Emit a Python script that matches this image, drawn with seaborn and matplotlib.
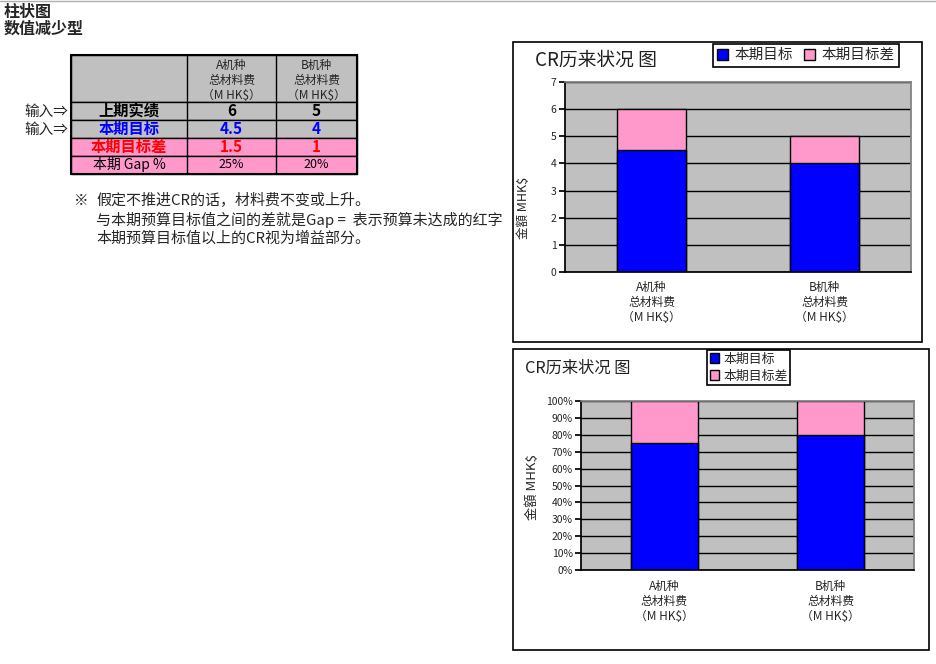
import pandas as pd
import matplotlib
matplotlib.use("Agg")
import matplotlib.pyplot as plt
import seaborn as sns
from matplotlib.patches import Rectangle
from matplotlib.ticker import PercentFormatter

sns.set_theme(style="white")
plt.rcParams['font.family'] = ['Noto Sans CJK SC', 'DejaVu Sans']

W, H = 936, 664

# data
categories = ["A机种\n总材料费\n（M HK$）", "B机种\n总材料费\n（M HK$）"]
prev_actual = [6, 5]
target = [4.5, 4]
gap = [1.5, 1]
gap_pct = ["25%", "20%"]
row_labels = ["上期实绩", "本期目标", "本期目标差", "本期 Gap %"]
series_names = ["本期目标", "本期目标差"]
chart_title = "CR历来状况 图"
y_label = "金額 MHK$"
notes = ["假定不推进CR的话，材料费不变或上升。",
         "与本期预算目标值之间的差就是Gap =  表示预算未达成的红字",
         "本期预算目标值以上的CR视为增益部分。"]

BLUE = "#0000FF"
PINK = "#FF99CC"
GREY = "#C0C0C0"

df = pd.DataFrame({"cat": categories, "target": target, "gap": gap})
df["total"] = df["target"] + df["gap"]
df["target_pct"] = df["target"] / df["total"] * 100
df["total_pct"] = 100.0


def px_box(x0, y0, x1, y1):
    return [x0 / W, 1 - y1 / H, (x1 - x0) / W, (y1 - y0) / H]


fig = plt.figure(figsize=(W / 100, H / 100), dpi=100)
fig.patch.set_facecolor("white")

# background layer in pixel coords
bg = fig.add_axes([0, 0, 1, 1])
bg.set_xlim(0, W)
bg.set_ylim(H, 0)
bg.axis("off")
bg.plot([0, W], [1, 1], color="#b0b0b0", lw=1)

bg.text(4, 12, "柱状图", fontsize=11.5, fontweight="bold", va="center")
bg.text(4, 29, "数值减少型", fontsize=11.5, fontweight="bold", va="center")

# table
col_x = [71, 187, 276, 357]
row_y = [55, 102, 120, 138, 156, 174]
row_fill = [GREY, GREY, GREY, PINK, PINK]
for r in range(5):
    bg.add_patch(Rectangle((col_x[0], row_y[r]), col_x[-1] - col_x[0],
                           row_y[r + 1] - row_y[r], facecolor=row_fill[r],
                           edgecolor="black", lw=1))
for x in col_x[1:-1]:
    bg.plot([x, x], [row_y[0], row_y[-1]], color="black", lw=1)
bg.add_patch(Rectangle((col_x[0], row_y[0]), col_x[-1] - col_x[0],
                       row_y[-1] - row_y[0], fill=False, edgecolor="black", lw=1.5))

for i, c in enumerate(categories):
    bg.text((col_x[i + 1] + col_x[i + 2]) / 2, (row_y[0] + row_y[1]) / 2 + 2, c,
            fontsize=8.5, ha="center", va="center", linespacing=1.2)

row_style = [("black", "bold", 11), (BLUE, "bold", 11), ("red", "bold", 11),
             ("black", "normal", 10)]
row_vals = [[str(v) for v in prev_actual], [str(v) for v in target],
            [str(v) for v in gap], gap_pct]
for r, lab in enumerate(row_labels):
    cy = (row_y[r + 1] + row_y[r + 2]) / 2
    color, weight, fs = row_style[r]
    bg.text((col_x[0] + col_x[1]) / 2, cy, lab, color=color, fontweight=weight,
            fontsize=fs, ha="center", va="center")
    for i, v in enumerate(row_vals[r]):
        bg.text((col_x[i + 1] + col_x[i + 2]) / 2, cy, v, color=color,
                fontweight=weight, fontsize=fs if r < 3 else 9,
                ha="center", va="center")

for yy in [112, 130]:
    bg.text(24, yy, "输入⇒", fontsize=10.5, va="center")

bg.text(74, 201, "※", fontsize=10.5, va="center")
for k, line in enumerate(notes):
    bg.text(96, 201 + k * 18.5, line, fontsize=10.8, va="center")

# chart frames
bg.add_patch(Rectangle((513, 42), 922 - 513, 342 - 42, fill=False,
                       edgecolor="black", lw=1.2))
bg.add_patch(Rectangle((513, 349), 929 - 513, 650 - 349, fill=False,
                       edgecolor="black", lw=1.2))
bg.text(535, 60, chart_title, fontsize=13.5, color="#202020", va="center")
bg.text(525, 368, chart_title, fontsize=11.7, color="#202020", va="center")


def style_ax(ax, ymax, step):
    ax.set_facecolor(GREY)
    ax.set_xlim(-0.5, 1.5)
    ax.set_ylim(0, ymax)
    ax.set_yticks([step * i for i in range(int(round(ymax / step)) + 1)])
    ax.grid(axis="y", color="black", lw=1)
    ax.grid(axis="x", visible=False)
    ax.set_axisbelow(True)
    for s in ["top", "right"]:
        ax.spines[s].set_color("#808080")
    for s in ["left", "bottom"]:
        ax.spines[s].set_color("black")
    ax.set_xlabel("")
    ax.set_xticks([0.5], minor=True)
    ax.tick_params(axis="x", which="major", length=0, labelsize=8.5)
    ax.tick_params(axis="x", which="minor", length=3, direction="in",
                   color="black", width=1)
    ax.tick_params(axis="y", length=4, direction="out", color="black",
                   labelsize=7.5, left=True, pad=2)
    for t in ax.get_xticklabels():
        t.set_linespacing(1.2)


# chart 1: stacked values
ax1 = fig.add_axes(px_box(565, 82, 911, 272))
sns.barplot(data=df, x="cat", y="total", color=PINK, saturation=1, width=0.4,
            edgecolor="black", linewidth=1, label=series_names[1], ax=ax1)
sns.barplot(data=df, x="cat", y="target", color=BLUE, saturation=1, width=0.4,
            edgecolor="black", linewidth=1, label=series_names[0], ax=ax1)
style_ax(ax1, 7, 1)
ax1.tick_params(axis="x", which="major", pad=6.5)
ax1.set_ylabel(y_label, fontsize=9)
ax1.yaxis.set_label_coords(-0.1, 0.335)
h, l = ax1.get_legend_handles_labels()
ax1.legend(h[::-1], l[::-1], ncol=2, loc="upper left",
           bbox_to_anchor=(713 / W, 1 - 44 / H), bbox_transform=fig.transFigure,
           frameon=True, fancybox=False, edgecolor="black", framealpha=1,
           fontsize=10.5, handlelength=0.75, handleheight=0.75, handletextpad=0.4,
           columnspacing=0.8, borderpad=0.3, borderaxespad=0)
ax1.get_legend().get_frame().set_linewidth(1.2)

# chart 2: 100% stacked
ax2 = fig.add_axes(px_box(581, 401, 914, 570))
sns.barplot(data=df, x="cat", y="total_pct", color=PINK, saturation=1, width=0.4,
            edgecolor="black", linewidth=1, label=series_names[1], ax=ax2)
sns.barplot(data=df, x="cat", y="target_pct", color=BLUE, saturation=1, width=0.4,
            edgecolor="black", linewidth=1, label=series_names[0], ax=ax2)
style_ax(ax2, 100, 10)
ax2.yaxis.set_major_formatter(PercentFormatter(decimals=0))
ax2.tick_params(axis="x", which="major", pad=7.5)
ax2.set_ylabel(y_label, fontsize=9.5)
ax2.yaxis.set_label_coords(-0.125, 0.49)
h, l = ax2.get_legend_handles_labels()
ax2.legend(h[::-1], l[::-1], ncol=1, loc="upper left",
           bbox_to_anchor=(707 / W, 1 - 350 / H), bbox_transform=fig.transFigure,
           frameon=True, fancybox=False, edgecolor="black", framealpha=1,
           fontsize=9.3, handlelength=0.75, handleheight=0.75, handletextpad=0.3,
           labelspacing=0.3, borderpad=0.2, borderaxespad=0)
ax2.get_legend().get_frame().set_linewidth(1.2)

fig.savefig("out.png", dpi=100)
